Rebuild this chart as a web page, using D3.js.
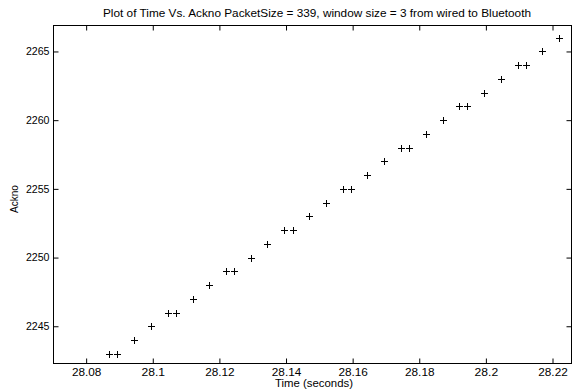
<!DOCTYPE html>
<html>
<head>
<meta charset="utf-8">
<script src="https://cdn.jsdelivr.net/npm/d3@7"></script>
<style>
  body { margin: 0; background: #fff; }
  text { font-family: "Liberation Sans", Arial, sans-serif; fill: #000; }
</style>
</head>
<body>
<svg id="chart" width="573" height="390"></svg>
<script>
// time stamps (s) and ack numbers
var times = [28.0870, 28.0894, 28.0945, 28.0995, 28.1045, 28.1069, 28.1120, 28.1170,
  28.1219, 28.1244, 28.1294, 28.1344, 28.1395, 28.1420, 28.1469, 28.1519,
  28.1570, 28.1595, 28.1644, 28.1694, 28.1744, 28.1770, 28.1820, 28.1870,
  28.1919, 28.1944, 28.1995, 28.2045, 28.2095, 28.2119, 28.2169, 28.2220];
var acks = [2243, 2243, 2244, 2245, 2246, 2246, 2247, 2248,
  2249, 2249, 2250, 2251, 2252, 2252, 2253, 2254,
  2255, 2255, 2256, 2257, 2258, 2258, 2259, 2260,
  2261, 2261, 2262, 2263, 2264, 2264, 2265, 2266];
var xTicks = [28.08, 28.1, 28.12, 28.14, 28.16, 28.18, 28.2, 28.22];
var yTicks = [2245, 2250, 2255, 2260, 2265];

(function(){
  var left = 53.5, right = 571.5, topY = 25.5, bottom = 363.5;

  var svg = d3.select('#chart');

  var x = d3.scaleLinear().domain([28.0702, 28.2257]).range([left, right]);
  var y = d3.scaleLinear().domain([2242.29, 2266.89]).range([bottom, topY]);

  // ticks on all four sides, pointing inward like matlab
  var fmt = function(d){ return String(+d.toFixed(2)); };
  svg.append('g').attr('transform', 'translate(0,' + bottom + ')')
    .call(d3.axisBottom(x).tickValues(xTicks).tickFormat(fmt).tickSizeInner(-5).tickSizeOuter(0).tickPadding(5));
  svg.append('g').attr('transform', 'translate(0,' + topY + ')')
    .call(d3.axisTop(x).tickValues(xTicks).tickFormat('').tickSizeInner(-5).tickSizeOuter(0));
  svg.append('g').attr('transform', 'translate(' + left + ',0)')
    .call(d3.axisLeft(y).tickValues(yTicks).tickFormat(d3.format('d')).tickSizeInner(-5).tickSizeOuter(0).tickPadding(4));
  svg.append('g').attr('transform', 'translate(' + right + ',0)')
    .call(d3.axisRight(y).tickValues(yTicks).tickFormat('').tickSizeInner(-5).tickSizeOuter(0));

  svg.selectAll('.domain').remove();
  svg.selectAll('.tick line').attr('stroke', '#000');
  svg.selectAll('.tick text')
    .style('font-size', '10px')
    .style('font-family', '"Liberation Sans", Arial, sans-serif')
    .attr('fill', '#111')
    .attr('textLength', function(d){ return fmt(d).length * 5.9; })
    .attr('lengthAdjust', 'spacingAndGlyphs');

  svg.append('rect')
    .attr('x', left).attr('y', topY)
    .attr('width', right - left).attr('height', bottom - topY)
    .attr('fill', 'none').attr('stroke', '#000').attr('stroke-width', 1);

  // plus markers
  var s = 3.5;
  svg.append('g').selectAll('path')
    .data(times)
    .enter().append('path')
    .attr('d', function(d, i){
      var px = Math.round(x(d)) + 0.5, py = Math.round(y(acks[i])) + 0.5;
      return 'M' + (px - s) + ',' + py + 'H' + (px + s) + 'M' + px + ',' + (py - s) + 'V' + (py + s);
    })
    .attr('stroke', '#000').attr('stroke-width', 1).attr('fill', 'none');

  svg.append('text')
    .attr('x', 317).attr('y', 17)
    .attr('text-anchor', 'middle').style('font-size', '10.5px')
    .attr('textLength', 428).attr('lengthAdjust', 'spacingAndGlyphs')
    .text('Plot of Time Vs. Ackno PacketSize = 339, window size = 3 from wired to Bluetooth');

  svg.append('text')
    .attr('x', 314).attr('y', 387)
    .attr('text-anchor', 'middle').style('font-size', '10.5px')
    .attr('textLength', 78).attr('lengthAdjust', 'spacingAndGlyphs')
    .text('Time (seconds)');

  svg.append('text')
    .attr('transform', 'translate(18,199) rotate(-90)')
    .attr('text-anchor', 'middle').style('font-size', '10px')
    .text('Ackno');
})();
</script>
</body>
</html>
